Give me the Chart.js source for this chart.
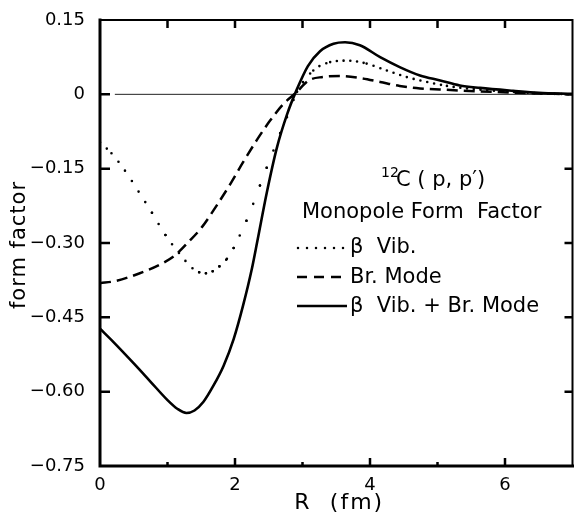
<!DOCTYPE html>
<html>
<head>
<meta charset="utf-8">
<style>
  html, body { margin: 0; padding: 0; background: #fff; }
  canvas { display: block; }
</style>
<script src="https://cdn.jsdelivr.net/npm/chart.js@4.4.0/dist/chart.umd.min.js"></script>
</head>
<body>
<canvas id="chart" width="574" height="514"></canvas>
<script>
'use strict';

// beta vibration form factor
var vibR = [0, 0.17, 0.37, 0.57, 0.77, 0.97, 1.17, 1.37, 1.47, 1.57, 1.67, 1.77, 1.88, 1.98, 2.07, 2.17, 2.27, 2.37,
    2.47, 2.57, 2.67, 2.77, 2.92, 3.16, 3.41, 3.68, 3.95, 4.25, 4.54, 4.84, 5.14, 5.43, 5.88, 6.5, 7.0];
var vibF = [-0.097, -0.119, -0.154, -0.196, -0.239, -0.284, -0.320, -0.351, -0.359, -0.361, -0.357, -0.347, -0.332,
    -0.310, -0.285, -0.255, -0.221, -0.184, -0.148, -0.113, -0.078, -0.046, 0.005, 0.048, 0.065, 0.068, 0.062,
    0.048, 0.035, 0.025, 0.017, 0.012, 0.007, 0.002, 0.0];

// breathing mode form factor
var brR = [0, 0.22, 0.57, 0.91, 1.11, 1.31, 1.51, 1.73, 1.93, 2.12, 2.32, 2.52, 2.72, 2.91, 3.09, 3.3, 3.56, 3.85,
    4.15, 4.44, 4.74, 5.14, 5.63, 6.2, 7.0];
var brF = [-0.381, -0.377, -0.362, -0.342, -0.325, -0.298, -0.268, -0.224, -0.181, -0.137, -0.093, -0.053, -0.019,
    0.004, 0.028, 0.035, 0.037, 0.033, 0.025, 0.017, 0.012, 0.009, 0.006, 0.003, 0.0];

// beta vibration + breathing mode
var sumR = [0, 0.2, 0.5, 0.75, 1.0, 1.15, 1.28, 1.4, 1.53, 1.68, 1.83, 1.98, 2.12, 2.25, 2.33, 2.47, 2.62, 2.77,
    2.91, 3.08, 3.26, 3.46, 3.63, 3.85, 4.15, 4.44, 4.74, 5.04, 5.33, 5.63, 6.12, 6.5, 7.0];
var sumF = [-0.473, -0.50, -0.543, -0.58, -0.617, -0.635, -0.643, -0.638, -0.621, -0.588, -0.548, -0.494, -0.426,
    -0.352, -0.297, -0.199, -0.108, -0.041, 0.008, 0.057, 0.087, 0.102, 0.105, 0.099, 0.075, 0.055, 0.038, 0.028,
    0.018, 0.013, 0.007, 0.003, 0.001];

var yTicks = [-0.75, -0.60, -0.45, -0.30, -0.15, 0, 0.15];
var xTicks = [0, 1, 2, 3, 4, 5, 6, 7];
var xLabels = [0, 2, 4, 6];
var xMinor = [1, 3, 5];

var FONT = "'DejaVu Sans', sans-serif";

function points(xs, ys) {
    return xs.map(function (x, i) { return { x: x, y: ys[i] }; });
}

// dots every ~0.1 fm along x, so spread them out on the steep parts
function dotDash(ctx) {
    var dx = Math.abs(ctx.p1.x - ctx.p0.x),
        dy = ctx.p1.y - ctx.p0.y;
    var gap = 6.75 * Math.sqrt(dx * dx + dy * dy) / Math.max(dx, 0.1);
    return [0, Math.round(gap * 4) / 4];
}

var frame = {
    id: 'frame',
    beforeDatasetsDraw: function (chart) {
        var ctx = chart.ctx, a = chart.chartArea, y = chart.scales.y, x = chart.scales.x;
        var y0 = y.getPixelForValue(0);
        ctx.save();
        ctx.strokeStyle = '#222';
        ctx.lineWidth = 1;
        ctx.beginPath();
        ctx.moveTo(x.getPixelForValue(0.22), y0);
        ctx.lineTo(a.right, y0);
        ctx.stroke();
        ctx.restore();
    },
    afterDraw: function (chart) {
        var ctx = chart.ctx, a = chart.chartArea, x = chart.scales.x, y = chart.scales.y;
        ctx.save();
        ctx.strokeStyle = '#000';
        ctx.lineCap = 'square';

        // box
        ctx.lineWidth = 3;
        ctx.beginPath();
        ctx.moveTo(a.left, a.top);
        ctx.lineTo(a.left, a.bottom);
        ctx.lineTo(a.right, a.bottom);
        ctx.stroke();
        ctx.lineWidth = 2;
        ctx.beginPath();
        ctx.moveTo(a.left, a.top);
        ctx.lineTo(a.right, a.top);
        ctx.lineTo(a.right, a.bottom);
        ctx.stroke();

        // inward ticks
        ctx.lineCap = 'butt';
        ctx.lineWidth = 2.5;
        ctx.beginPath();
        yTicks.forEach(function (v) {
            var py = y.getPixelForValue(v);
            if (v === yTicks[0] || v === yTicks[yTicks.length - 1]) return;
            ctx.moveTo(a.left, py); ctx.lineTo(a.left + 10, py);
            ctx.moveTo(a.right, py); ctx.lineTo(a.right - 8, py);
        });
        xTicks.forEach(function (v) {
            if (v === 0 || v === 7) return;
            var px = x.getPixelForValue(v);
            var len = xMinor.indexOf(v) >= 0 ? 4 : 8;
            ctx.moveTo(px, a.bottom); ctx.lineTo(px, a.bottom - len);
            ctx.moveTo(px, a.top); ctx.lineTo(px, a.top + 8);
        });
        ctx.stroke();

        // axis titles
        ctx.fillStyle = '#000';
        ctx.font = '22px ' + FONT;
        ctx.textAlign = 'center';
        ctx.textBaseline = 'middle';
        ctx.fillText('R', 302, 503);
        ctx.letterSpacing = '2px';
        ctx.fillText('(fm)', 357, 503);
        ctx.letterSpacing = '1px';
        ctx.font = '21px ' + FONT;
        ctx.save();
        ctx.translate(20, 245);
        ctx.rotate(-Math.PI / 2);
        ctx.fillText('form factor', 0, 0);
        ctx.restore();
        ctx.letterSpacing = '0px';

        // reaction label
        ctx.textAlign = 'left';
        ctx.textBaseline = 'alphabetic';
        ctx.font = '14px ' + FONT;
        ctx.fillText('12', 381, 177);
        ctx.font = '21px ' + FONT;
        ctx.fillText('C ( p, p\u2032)', 396, 186);
        ctx.fillText('Monopole Form  Factor', 302, 218);

        // key
        ctx.fillText('\u03b2  Vib.', 350, 253);
        ctx.fillText('Br. Mode', 350, 283);
        ctx.fillText('\u03b2  Vib. + Br. Mode', 350, 312);

        ctx.lineWidth = 2.5;
        ctx.lineCap = 'round';
        ctx.setLineDash([0, 9]);
        ctx.beginPath();
        ctx.moveTo(298, 248); ctx.lineTo(346, 248);
        ctx.stroke();
        ctx.lineCap = 'butt';
        ctx.setLineDash([10, 7]);
        ctx.beginPath();
        ctx.moveTo(297, 277); ctx.lineTo(348, 277);
        ctx.stroke();
        ctx.setLineDash([]);
        ctx.beginPath();
        ctx.moveTo(297, 306); ctx.lineTo(347, 306);
        ctx.stroke();
        ctx.restore();
    }
};

var chart = new Chart(document.getElementById('chart').getContext('2d'), {
    type: 'line',
    data: {
        datasets: [{
            label: '\u03b2 Vib.',
            data: points(vibR, vibF),
            borderColor: '#000',
            borderWidth: 2.6,
            borderCapStyle: 'round',
            segment: { borderDash: dotDash },
            pointRadius: 0,
            cubicInterpolationMode: 'monotone'
        }, {
            label: 'Br. Mode',
            data: points(brR, brF),
            borderColor: '#000',
            borderWidth: 2.5,
            borderDash: [11, 6],
            pointRadius: 0,
            cubicInterpolationMode: 'monotone'
        }, {
            label: '\u03b2 Vib. + Br. Mode',
            data: points(sumR, sumF),
            borderColor: '#000',
            borderWidth: 2.6,
            pointRadius: 0,
            cubicInterpolationMode: 'monotone'
        }]
    },
    options: {
        responsive: false,
        animation: false,
        events: [],
        layout: { padding: { top: 20, right: 1.5, left: 0, bottom: 0 } },
        plugins: {
            legend: { display: false },
            tooltip: { enabled: false }
        },
        scales: {
            x: {
                type: 'linear',
                min: 0,
                max: 7,
                afterFit: function (s) { s.height = 48; },
                afterBuildTicks: function (s) {
                    s.ticks = xLabels.map(function (v) { return { value: v }; });
                },
                grid: { display: false },
                border: { display: false },
                ticks: {
                    color: '#000',
                    padding: 1,
                    maxRotation: 0,
                    autoSkip: false,
                    font: { family: FONT, size: 18 }
                }
            },
            y: {
                type: 'linear',
                min: -0.75,
                max: 0.15,
                afterFit: function (s) { s.width = 100; },
                afterBuildTicks: function (s) {
                    s.ticks = yTicks.map(function (v) { return { value: v }; });
                },
                grid: { display: false },
                border: { display: false },
                ticks: {
                    color: '#000',
                    padding: 7,
                    autoSkip: false,
                    font: { family: FONT, size: 18 },
                    callback: function (v) {
                        if (Math.abs(v) < 1e-9) return '0';
                        return (v < 0 ? '\u2212' : '') + Math.abs(v).toFixed(2);
                    }
                }
            }
        }
    },
    plugins: [frame]
});
</script>
</body>
</html>
